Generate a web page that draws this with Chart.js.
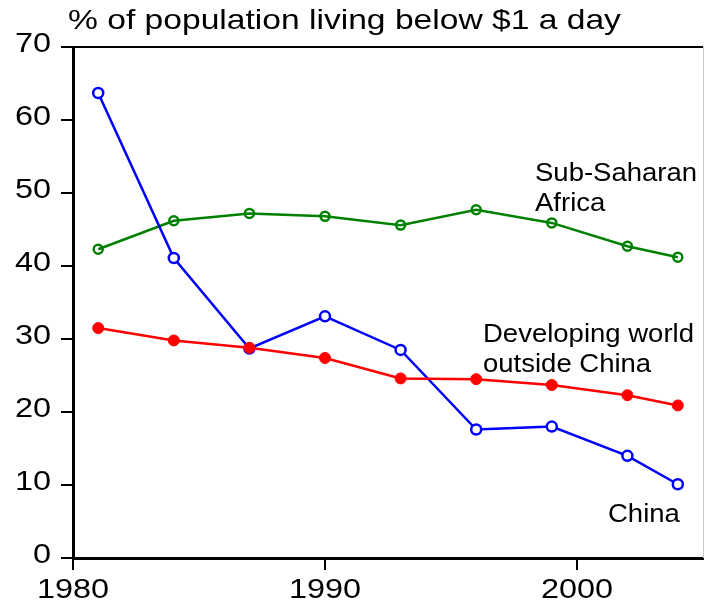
<!DOCTYPE html>
<html>
<head>
<meta charset="utf-8">
<script src="https://cdn.jsdelivr.net/npm/chart.js@4"></script>
<style>
  html, body { margin: 0; padding: 0; background: #fff; }
  #wrap { width: 704px; height: 607px; }
</style>
</head>
<body>
<div id="wrap"><canvas id="myChart" width="704" height="607"></canvas></div>
<script>
const years = [1981, 1984, 1987, 1990, 1993, 1996, 1999, 2002, 2004];
const china = [63.7, 41.1, 28.7, 33.1, 28.5, 17.6, 18.0, 14.0, 10.1];
const subSaharan = [42.3, 46.2, 47.2, 46.8, 45.6, 47.7, 45.9, 42.7, 41.2];
const developing = [31.5, 29.8, 28.8, 27.4, 24.6, 24.5, 23.7, 22.3, 20.9];

const titleText = '% of population living below $1 a day';
const seriesLabels = [
  { lines: ['Sub-Saharan', 'Africa'], x: 535, y: 181 },
  { lines: ['Developing world', 'outside China'], x: 483, y: 342 },
  { lines: ['China'], x: 608, y: 522 }
];

const FONT = '"Liberation Sans", Arial, sans-serif';

function drawStretched(ctx, text, x, y, size, sx, align) {
  ctx.save();
  ctx.font = size + 'px ' + FONT;
  ctx.textBaseline = 'alphabetic';
  ctx.textAlign = 'left';
  ctx.fillStyle = '#000';
  const w = ctx.measureText(text).width * sx;
  let left = x;
  if (align === 'right') { left = x - w; }
  if (align === 'center') { left = x - w / 2; }
  ctx.translate(left, y);
  ctx.scale(sx, 1);
  ctx.fillText(text, 0, 0);
  ctx.restore();
}

function toPoints(xs, ys) {
  return xs.map((x, i) => ({ x: x, y: ys[i] }));
}

// tick labels, frame and text labels drawn by hand so they can be stretched like the original
const decorPlugin = {
  id: 'decor',
  afterDraw(chart) {
    const ctx = chart.ctx;
    const area = chart.chartArea;
    const xScale = chart.scales.x;
    const yScale = chart.scales.y;

    ctx.save();
    ctx.strokeStyle = '#000';
    ctx.lineWidth = 2;
    ctx.beginPath();
    ctx.moveTo(area.left, area.top);
    ctx.lineTo(area.right, area.top);
    ctx.stroke();
    ctx.strokeStyle = '#c8c8c8';
    ctx.lineWidth = 1;
    ctx.beginPath();
    ctx.moveTo(area.right + 0.5, area.top);
    ctx.lineTo(area.right + 0.5, area.bottom);
    ctx.stroke();
    ctx.restore();

    yScale.ticks.forEach((t) => {
      const py = yScale.getPixelForValue(t.value);
      drawStretched(ctx, String(t.value), 51, py + 5, 27, 1.2, 'right');
    });
    xScale.ticks.forEach((t) => {
      const px = xScale.getPixelForValue(t.value);
      drawStretched(ctx, String(t.value), px, 598, 27, 1.2, 'center');
    });

    drawStretched(ctx, titleText, 68, 29, 28, 1.2, 'left');

    seriesLabels.forEach((lab) => {
      lab.lines.forEach((line, i) => {
        drawStretched(ctx, line, lab.x, lab.y + i * 30, 25, 1.1, 'left');
      });
    });
  }
};

function mainEvent() {
  const target = document.querySelector('#myChart');

  const data = {
    datasets: [
      {
        label: 'Developing world outside China',
        data: toPoints(years, developing),
        borderColor: '#ff0000',
        backgroundColor: '#ff0000',
        borderWidth: 2.5,
        pointRadius: 5.5,
        pointBorderWidth: 1,
        pointBackgroundColor: '#ff0000',
        tension: 0
      },
      {
        label: 'China',
        data: toPoints(years, china),
        borderColor: '#0000ff',
        backgroundColor: '#ffffff',
        borderWidth: 2.5,
        pointRadius: 5,
        pointBorderWidth: 2.5,
        pointBackgroundColor: '#ffffff',
        tension: 0
      },
      {
        label: 'Sub-Saharan Africa',
        data: toPoints(years, subSaharan),
        borderColor: '#008000',
        backgroundColor: 'rgba(0,0,0,0)',
        borderWidth: 2.5,
        pointRadius: 4.5,
        pointBorderWidth: 2.5,
        pointBackgroundColor: 'rgba(0,0,0,0)',
        tension: 0
      }
    ]
  };

  const config = {
    type: 'line',
    data: data,
    options: {
      responsive: false,
      animation: false,
      devicePixelRatio: 1,
      layout: { autoPadding: false, padding: { top: 47, right: 1, left: 0, bottom: 0 } },
      plugins: {
        legend: { display: false },
        tooltip: { enabled: false },
        title: { display: false }
      },
      scales: {
        x: {
          type: 'linear',
          min: 1980,
          max: 2005,
          ticks: { stepSize: 10, includeBounds: false, display: false },
          grid: { drawOnChartArea: false, drawTicks: true, tickLength: 12, color: '#000', lineWidth: 2 },
          border: { color: '#000', width: 3 },
          afterFit: (scale) => { scale.height = 49; }
        },
        y: {
          min: 0,
          max: 70,
          ticks: { stepSize: 10, display: false },
          grid: { drawOnChartArea: false, drawTicks: true, tickLength: 12, color: '#000', lineWidth: 2 },
          border: { color: '#000', width: 3 },
          afterFit: (scale) => { scale.width = 73; }
        }
      }
    },
    plugins: [decorPlugin]
  };

  return new Chart(target, config);
}

document.addEventListener('DOMContentLoaded', () => mainEvent());
</script>
</body>
</html>
